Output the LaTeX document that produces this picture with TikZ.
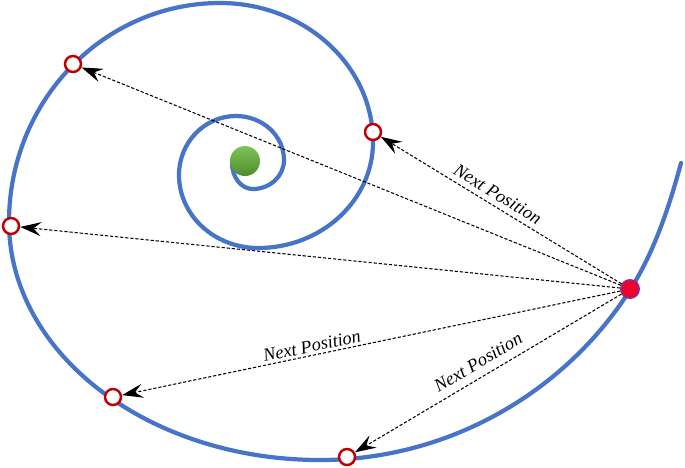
\documentclass[tikz,border=0pt]{standalone}
\usepackage{fontspec}
\setmainfont{Liberation Serif}
\usepackage{tikz}
\usetikzlibrary{positioning,arrows.meta}
\definecolor{orbit}{HTML}{4774C8}
\definecolor{posred}{HTML}{C00000}
\definecolor{nowred}{HTML}{F0002A}
\definecolor{nowrim}{HTML}{A0207A}
\definecolor{sungreen}{HTML}{66BB3A}

\begin{document}
\begin{tikzpicture}[x=0.02cm, y=-0.02cm, font=\fontsize{10.4}{12}\selectfont\itshape,
  posmark/.style={circle, draw=posred, line width=1.4pt, fill=white, minimum size=0.32cm, inner sep=0pt},
  nextarrow/.style={-{Stealth[length=12pt, width=8pt, inset=4.5pt]}, line width=0.6pt, dash pattern=on 1.8pt off 1.1pt},
  steplabel/.style={sloped, inner sep=1pt}]
\useasboundingbox (0,0) rectangle (685,467);
% spiral path, quarter by quarter
\draw[orbit, line width=2.4pt, line cap=round]
  (232,163) .. controls (232,177) and (241,189) .. (253,189)
            .. controls (270.1,189) and (284,176) .. (284,160)
            .. controls (284,135.7) and (262.5,116) .. (236,116)
            .. controls (204.5,116) and (179,142.4) .. (179,175)
            .. controls (179,215.3) and (214.4,248) .. (258,248)
            .. controls (321.5,248) and (373,200.5) .. (373,142)
            .. controls (373,65.3) and (304.5,3) .. (220,3)
            .. controls (103.5,3) and (9,101.1) .. (9,222)
            .. controls (9,353.4) and (148.3,460) .. (320,460)
            .. controls (450,460) and (565.4,391.2) .. (630,290)
            .. controls (654.2,252.1) and (669.3,206.5) .. (681,163);
\node[circle, top color=sungreen!85!white, bottom color=sungreen!75!black, minimum size=0.6cm, inner sep=0pt] (sun) at (245,161) {};
\node[posmark] (p1) at (373,132) {};
\node[posmark] (p2) at (73,64) {};
\node[posmark] (p3) at (11,226) {};
\node[posmark] (p4) at (113,397) {};
\node[posmark] (p5) at (347,457) {};
\node[circle, fill=nowred, draw=nowrim, line width=1.1pt, minimum size=0.36cm, inner sep=0pt] (now) at (630,289) {};
% moves
\draw[nextarrow] (now) -- node[steplabel, pos=0.54, above=2pt] {Next Position} (p1);
\draw[nextarrow] (now) -- (p2);
\draw[nextarrow] (now) -- (p3);
\draw[nextarrow] (now) -- node[steplabel, pos=0.615, above=0.5pt] {Next Position} (p4);
\draw[nextarrow] (now) -- node[steplabel, pos=0.51, above=3.5pt] {Next Position} (p5);
\end{tikzpicture}
\end{document}
